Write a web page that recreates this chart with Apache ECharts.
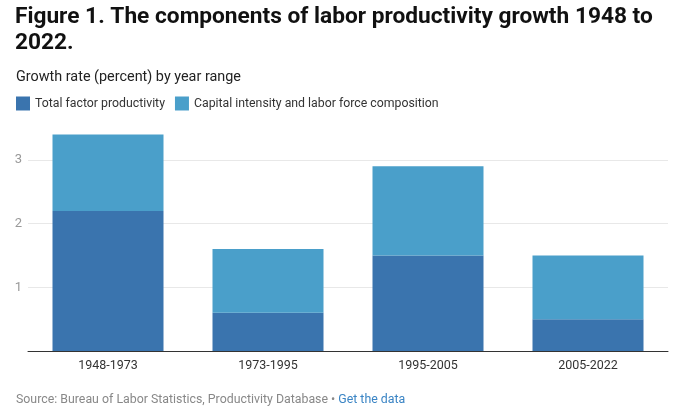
<!DOCTYPE html>
<html>
<head>
<meta charset="utf-8">
<script src="https://cdn.jsdelivr.net/npm/echarts@6/dist/echarts.min.js"></script>
<style>
html,body{margin:0;padding:0;background:#fff;}
#chart{width:698px;height:409px;}
</style>
</head>
<body>
<div id="chart"></div>
<script>
const categories = ['1948-1973', '1973-1995', '1995-2005', '2005-2022'];
const totalFactorProductivity = [2.2, 0.6, 1.5, 0.5];
const capitalIntensity = [1.2, 1.0, 1.4, 1.0];
const yTicks = [0, 1, 2, 3];

const chart = echarts.init(document.getElementById('chart'), null, {renderer: 'canvas'});
const font = 'Roboto, "Noto Sans", sans-serif';
chart.setOption({
  animation: false,
  title: [
    {
      text: 'Figure 1. The components of labor productivity growth 1948 to\n2022.',
      left: 15, top: 5, padding: 0,
      textStyle: {fontFamily: font, fontWeight: 'bold', fontSize: 22.7, lineHeight: 25.5, color: '#111'}
    },
    {
      text: 'Growth rate (percent) by year range',
      left: 16, top: 69, padding: 0,
      textStyle: {fontFamily: font, fontWeight: 'normal', fontSize: 14.4, lineHeight: 16, color: '#222'}
    },
    {
      text: '{a|Source: Bureau of Labor Statistics, Productivity Database • }{b|Get the data}',
      left: 16, top: 393, padding: 0,
      textStyle: {
        fontFamily: font, fontWeight: 'normal', fontSize: 12.35, lineHeight: 14,
        rich: {
          a: {fontFamily: font, fontSize: 12.35, color: '#888'},
          b: {fontFamily: font, fontSize: 12.35, color: '#3a84c4'}
        }
      }
    }
  ],
  legend: {
    left: 16, top: 96.5, padding: 0,
    itemWidth: 14, itemHeight: 14, itemGap: 10,
    icon: 'rect',
    textStyle: {fontFamily: font, fontSize: 12.3, color: '#333'},
    data: ['Total factor productivity', 'Capital intensity and labor force composition']
  },
  grid: {left: 28, right: 30, top: 134.5, bottom: 58, containLabel: false},
  xAxis: {
    type: 'category',
    data: categories,
    axisLine: {lineStyle: {color: '#333', width: 1}},
    axisTick: {show: false},
    axisLabel: {fontFamily: font, fontSize: 12.5, color: '#333', margin: 8}
  },
  yAxis: {
    type: 'value',
    min: yTicks[0], max: 3.4, interval: 1,
    axisLine: {show: false},
    axisTick: {show: false},
    axisLabel: {fontFamily: font, fontSize: 13, color: '#999', margin: 6, showMaxLabel: false, showMinLabel: false},
    splitLine: {lineStyle: {color: '#e8e8e8', width: 1}, showMaxLine: false, showMinLine: false}
  },
  series: [
    {
      name: 'Total factor productivity', type: 'bar', stack: 'total',
      data: totalFactorProductivity, barWidth: 111,
      itemStyle: {color: '#3a74ae'}
    },
    {
      name: 'Capital intensity and labor force composition', type: 'bar', stack: 'total',
      data: capitalIntensity, barWidth: 111,
      itemStyle: {color: '#4a9fca'}
    }
  ]
});
</script>
</body>
</html>
